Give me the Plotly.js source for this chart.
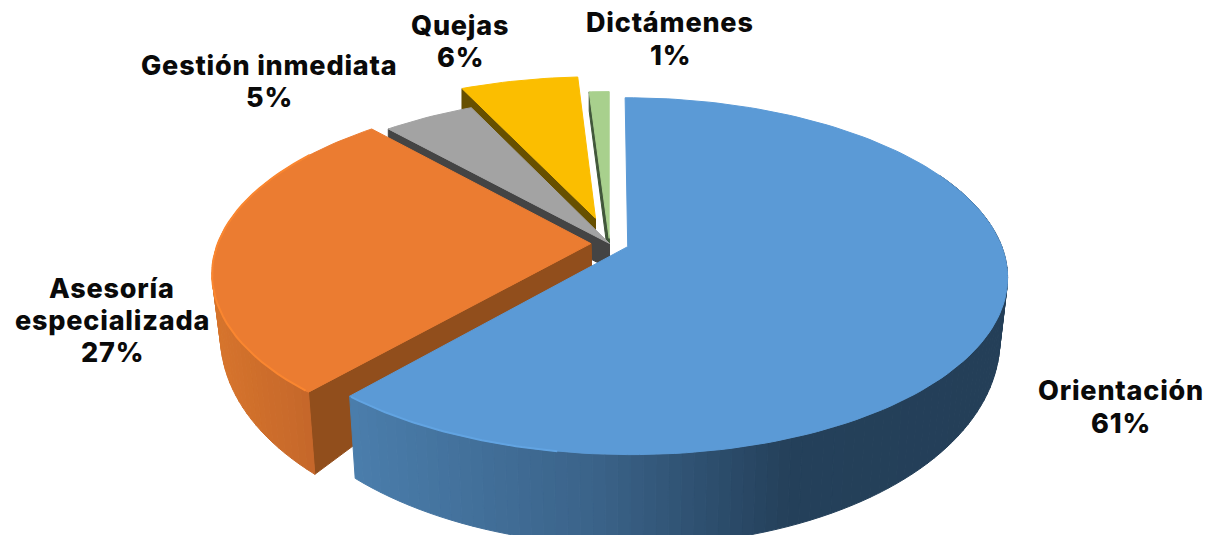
<!DOCTYPE html>
<html><head><meta charset="utf-8">
<script src="https://cdn.plot.ly/plotly-3.0.1.min.js"></script>
<style>html,body{margin:0;padding:0;background:#fff}#c{width:1205px;height:535px}
.annotation-text{letter-spacing:0.8px}</style>
</head><body><div id="c"></div>
<script>
// Data
const categories = ['Orientación','Asesoría especializada','Gestión inmediata','Quejas','Dictámenes'];
const labelLines = [['Orientación'],['Asesoría','especializada'],['Gestión inmediata'],['Quejas'],['Dictámenes']];
const values = [61.4,27.0,4.6,6.0,1.0];

// Styles
const topColors = ['#5B9AD6','#EB7C31','#A3A3A3','#FBBE00','#A8D08D'];
const cutColors = ['#24405A','#914E1C','#444444','#675000','#41573A'];
const rimStops = [
  [[355,[74,125,171]],[600,[58,98,136]],[790,[36,64,90]],[1010,[36,63,88]]],
  [[215,[214,116,44]],[315,[196,102,42]]],
  [[0,[68,68,68]],[1205,[68,68,68]]],
  [[0,[103,80,0]],[1205,[103,80,0]]],
  [[0,[65,87,58]],[1205,[65,87,58]]]
];
const explode = [0.052,0.05,0.0,0.155,0.03];
const drawOrder = [4,3,2,1,0];
const labelX = [1121,112,269,460,670];
const labelY = [[390,423],[288,320,352],[65,97],[25,57],[22,55]];

// Projection of the tilted pie plane onto the page scale
const ox=609.5, oy=243.5, A=373, B=172.5, k=0.165;
function project(u,v){const s=1/(1+k*v);return [ox+A*u*s, oy-B*v*s];}
function pt(i,th,r){
  const d=explode[i], m=mids[i];
  return project(d*Math.sin(m)+r*Math.sin(th), d*Math.cos(m)+r*Math.cos(th));
}
function low(i,th,r){
  const p=pt(i,th,r), c=Math.cos(th);
  const shrink=1-0.02*Math.min(1,Math.max(0,(0.6-c)/0.6));
  return [ox+18+(p[0]-ox-18)*shrink, p[1]+25+r*(30-36*c)];
}
const total=values.reduce((a,b)=>a+b,0);
const starts=[],ends=[],mids=[];
let acc=0;
values.forEach((v,i)=>{starts[i]=acc/total*2*Math.PI;acc+=v;ends[i]=acc/total*2*Math.PI;mids[i]=(starts[i]+ends[i])/2;});

function colorAt(stops,x){
  if(x<=stops[0][0])return stops[0][1];
  for(let j=1;j<stops.length;j++){
    if(x<=stops[j][0]){const t=(x-stops[j-1][0])/(stops[j][0]-stops[j-1][0]);
      return stops[j-1][1].map((c,n)=>c+(stops[j][1][n]-c)*t);}
  }
  return stops[stops.length-1][1];
}
function poly(pts,color){
  const closed=pts.concat([pts[0]]);
  return {type:'scatter',mode:'lines',x:closed.map(p=>p[0]),y:closed.map(p=>p[1]),fill:'toself',fillcolor:color,
    line:{color:color,width:1},hoverinfo:'skip',showlegend:false};
}
const traces=[];
drawOrder.forEach(i=>{
  const a=starts[i],b=ends[i];
  // radial cut face on the slice's leading edge
  if(i!==0){
    traces.push(poly([pt(i,a,0),pt(i,a,1),low(i,a,1),low(i,a,0)],cutColors[i]));
    traces.push(poly([pt(i,a,0),low(i,a,0),low(i,b,0),pt(i,b,0)],cutColors[i]));
  }
  // outer rim, split into strips for the shading
  const n=Math.max(4,Math.round((b-a)/(2*Math.PI)*220));
  for(let j=0;j<n;j++){
    const t0=a+(b-a)*j/n,t1=a+(b-a)*(j+1)/n;
    if(Math.cos((t0+t1)/2)>0.45)continue;
    const p0=pt(i,t0,1),p1=pt(i,t1,1),q0=low(i,t0,1),q1=low(i,t1,1);
    const c=colorAt(rimStops[i],(p0[0]+p1[0])/2).map(Math.round);
    traces.push(poly([p0,p1,q1,q0],`rgb(${c[0]},${c[1]},${c[2]})`));
  }
  // top face
  const topPts=[pt(i,a,0)];
  const m=Math.max(8,Math.round((b-a)/(2*Math.PI)*240));
  for(let j=0;j<=m;j++)topPts.push(pt(i,a+(b-a)*j/m,1));
  traces.push(poly(topPts,topColors[i]));
});
// lighter bevel on the front edges of the two large slices
function bevel(i,from,to,color){
  const pts=[];for(let j=0;j<=40;j++)pts.push(pt(i,from+(to-from)*j/40,1));
  traces.push({type:'scatter',mode:'lines',x:pts.map(p=>p[0]),y:pts.map(p=>p[1]),
    line:{color:color,width:2},hoverinfo:'skip',showlegend:false});
}
bevel(1,starts[1]+0.01,starts[1]+1.45,'#FA8630');
bevel(0,ends[0]-0.55,ends[0]-0.005,'#62A4E2');

const annotations=[];
values.forEach((v,i)=>{
  const lines=labelLines[i].concat([Math.round(v/total*100)+'%']);
  lines.forEach((t,j)=>annotations.push({xref:'x',yref:'y',x:labelX[i],y:labelY[i][j],text:t,showarrow:false,
    xanchor:'center',yanchor:'middle',font:{family:'Inter, "DejaVu Sans", sans-serif',size:27,color:'#0a0a0a',weight:800}}));
});
Plotly.newPlot('c',traces,{
  width:1205,height:535,margin:{l:0,r:0,t:0,b:0},paper_bgcolor:'#ffffff',plot_bgcolor:'#ffffff',
  showlegend:false,hovermode:false,
  xaxis:{range:[0,1205],visible:false,fixedrange:true},
  yaxis:{range:[535,0],visible:false,fixedrange:true},
  annotations:annotations
},{displayModeBar:false,staticPlot:true});
</script></body></html>
